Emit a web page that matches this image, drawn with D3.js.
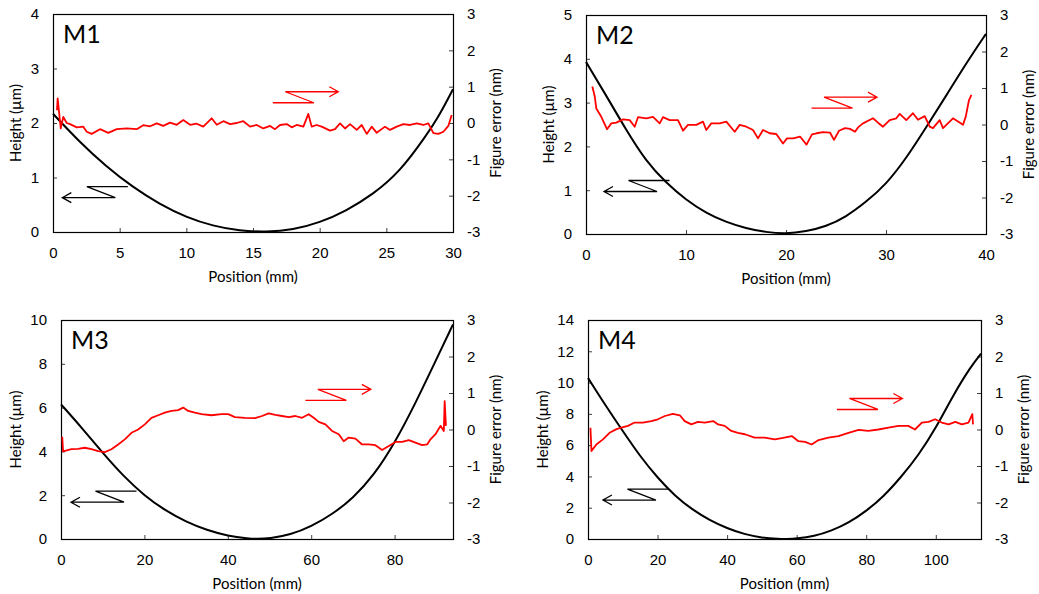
<!DOCTYPE html>
<html>
<head>
<meta charset="utf-8">
<script src="https://cdn.jsdelivr.net/npm/d3@7.9.0/dist/d3.min.js"></script>
<style>
  body { margin: 0; background: #fff; }
  svg { display: block; font-family: Lato, "Open Sans", sans-serif; }
  .tick text { font-size: 15px; fill: #000; }
  .tick line { stroke: #404040; }
  .title { font-size: 15px; fill: #000; }
  .tag { font-size: 25px; fill: #000; }
</style>
</head>
<body>
<svg id="chart" width="1039" height="594"></svg>
<script>
// ---- data ----
// M1
const m1Pos = [0, 2, 4, 6, 8, 10, 12, 14, 16, 18, 20, 22, 24, 26, 28, 29, 30];
const m1Height = [2.17, 1.65, 1.20, 0.82, 0.51, 0.27, 0.11, 0.02, 0.0, 0.04, 0.17, 0.39, 0.69, 1.10, 1.77, 2.15, 2.62];
const m1ErrPos = [0.3, 0.35, 0.58, 0.77, 1.03, 1.28, 1.78, 2.27, 2.53, 2.9, 3.53, 4.15, 4.78, 5.53, 6.28, 6.77, 7.28, 7.78, 8.27, 8.78,
  9.28, 9.77, 10.28, 10.78, 11.27, 11.9, 12.28, 12.78, 13.28, 13.78, 14.27, 14.78, 15.28, 15.77, 16.28, 16.65, 17.03, 17.53, 17.9,
  18.28, 18.78, 19.15, 19.4, 19.78, 20.15, 20.78, 21.15, 21.53, 21.9, 22.28, 22.78, 23.15, 23.53, 23.9, 24.28, 24.9, 25.28, 25.78,
  26.28, 26.78, 27.28, 27.78, 28.15, 28.53, 28.9, 29.28, 29.65, 29.9];
const m1Err = [0.35, 0.68, -0.15, 0.17, 0.0, -0.03, -0.12, -0.10, -0.24, -0.30, -0.17, -0.27, -0.17, -0.15, -0.17, -0.06, -0.09, -0.01, -0.08, 0.01,
  -0.05, 0.08, -0.05, -0.02, -0.10, 0.13, -0.05, 0.05, -0.03, 0.0, 0.05, -0.10, -0.055, -0.15, -0.08, -0.17, -0.055, -0.03, -0.12,
  -0.055, -0.10, 0.25, -0.10, -0.055, -0.10, -0.21, -0.17, -0.01, -0.15, -0.03, -0.19, -0.055, -0.30, -0.10, -0.27, -0.10, -0.19, -0.10,
  -0.03, -0.055, -0.01, -0.055, -0.01, -0.28, -0.30, -0.24, -0.08, 0.22];

// M2
const m2Pos = [0, 2, 4, 6, 8, 10, 12, 14, 16, 18, 20, 22, 24, 26, 28, 30, 32, 34, 36, 38, 40];
const m2Height = [3.93, 3.17, 2.38, 1.66, 1.17, 0.78, 0.48, 0.27, 0.13, 0.04, 0.0, 0.06, 0.17, 0.39, 0.73, 1.13, 1.72, 2.43, 3.15, 3.89, 4.57];
const m2ErrPos = [0.63, 0.87, 1.03, 1.53, 2.1, 2.53, 3.03, 3.7, 4.37, 4.87, 5.2, 6.03, 6.7, 7.37, 7.7, 8.37, 9.2, 9.7, 10.2, 11.03,
  11.7, 12.03, 12.53, 13.37, 14.03, 14.87, 15.37, 16.03, 16.7, 17.2, 17.7, 18.37, 19.03, 19.7, 20.1, 20.73, 21.4, 22.05, 22.6,
  23.07, 23.7, 24.4, 24.8, 25.3, 25.9, 26.4, 26.9, 27.2, 27.7, 28.7, 29.2, 29.7, 30.37, 31.03, 31.37, 32.03, 32.7, 33.2, 33.87,
  34.37, 34.7, 35.37, 35.7, 36.7, 37.2, 37.7, 37.97, 38.3, 38.55];
const m2Err = [1.04, 0.78, 0.44, 0.21, -0.13, 0.03, 0.05, 0.14, 0.12, -0.06, 0.2, 0.17, 0.21, 0.03, 0.2, 0.12, 0.12, -0.17, -0.01, -0.01,
  0.08, -0.15, 0.03, 0.03, 0.08, -0.2, -0.01, -0.06, -0.15, -0.38, -0.15, -0.24, -0.26, -0.52, -0.38, -0.38, -0.33, -0.55, -0.27,
  -0.24, -0.21, -0.22, -0.42, -0.17, -0.1, -0.12, -0.2, -0.08, 0.03, 0.17, 0.05, -0.06, 0.12, 0.17, 0.29, 0.12, 0.31, 0.13, 0.23,
  -0.06, -0.1, 0.12, -0.1, 0.17, 0.08, -0.01, 0.21, 0.67, 0.81];

// M3
const m3Pos = [0, 5, 10, 15, 20, 25, 30, 35, 40, 45, 47, 50, 55, 60, 65, 70, 75, 80, 85, 90, 94];
const m3Height = [6.15, 5.08, 3.93, 2.86, 1.98, 1.30, 0.78, 0.40, 0.14, 0.02, 0.0, 0.02, 0.19, 0.57, 1.12, 1.86, 2.90, 4.37, 6.20, 8.20, 9.80];
const m3ErrPos = [0.3, 0.5, 2.5, 4.1, 5.7, 7.3, 8.9, 10.5, 12.1, 13.7, 15.3, 16.9, 18.5, 20.1, 21.7, 23.3, 24.9, 26.5, 28.1, 29.3,
  30.5, 32.1, 33.7, 36.1, 38.5, 40.1, 41.7, 44.1, 46.5, 48.2, 49.8, 51.4, 53, 54.6, 56.2, 57.8, 59.4, 60.6, 61.8, 63.4, 65, 66.6,
  67.8, 69, 70.6, 72.2, 73.8, 75.4, 77, 78.6, 80.2, 81.8, 83.4, 85, 86.6, 87.8, 88.6, 89.8, 91, 91.8, 92.0, 92.3];
const m3Err = [-0.2, -0.6, -0.54, -0.53, -0.5, -0.54, -0.59, -0.62, -0.54, -0.41, -0.27, -0.09, 0.0, 0.14, 0.32, 0.39, 0.46, 0.51, 0.53, 0.6,
  0.51, 0.46, 0.42, 0.39, 0.42, 0.42, 0.34, 0.32, 0.31, 0.37, 0.44, 0.40, 0.37, 0.34, 0.37, 0.32, 0.42, 0.32, 0.21, 0.14, -0.04, -0.13,
  -0.32, -0.22, -0.25, -0.41, -0.41, -0.43, -0.56, -0.45, -0.34, -0.34, -0.29, -0.36, -0.43, -0.41, -0.27, -0.13, 0.1, -0.04, 0.78, 0.1];

// M4
const m4Pos = [0, 5, 10, 15, 20, 25, 30, 35, 40, 45, 50, 55, 57, 60, 65, 70, 75, 80, 85, 90, 95, 100, 105, 110, 113];
const m4Height = [10.3, 8.55, 6.9, 5.28, 3.91, 2.76, 1.87, 1.2, 0.68, 0.3, 0.08, 0.0, 0.0, 0.02, 0.17, 0.52, 1.04, 1.78, 2.72, 3.95, 5.35, 7.07, 9.2, 11.0, 11.85];
const m4ErrPos = [0.7, 1.0, 2.4, 4.3, 6.2, 8.2, 9.6, 11.5, 13.4, 15.8, 18.2, 20.1, 22.1, 24.4, 26.4, 27.8, 29.7, 31.6, 33.6, 36,
  37.4, 39.3, 41.2, 43.1, 45.1, 47.9, 50.8, 53.7, 56.1, 58.6, 60.5, 62.4, 64.3, 66.3, 69.1, 72, 74.9, 77.8, 80.6, 83.5, 86.4,
  89.3, 92.1, 94, 96, 97.9, 99.8, 101.7, 103.7, 105.6, 107.5, 109.4, 110.5, 110.7];
const m4Err = [0.05, -0.59, -0.41, -0.27, -0.09, 0.01, 0.05, 0.1, 0.19, 0.19, 0.23, 0.28, 0.37, 0.43, 0.39, 0.23, 0.14, 0.21, 0.19, 0.23,
  0.14, 0.1, -0.04, -0.09, -0.13, -0.22, -0.22, -0.27, -0.23, -0.18, -0.32, -0.34, -0.41, -0.29, -0.22, -0.18, -0.09, -0.01, -0.04, 0.0, 0.05,
  0.1, 0.1, 0.0, 0.19, 0.21, 0.28, 0.19, 0.14, 0.21, 0.14, 0.19, 0.42, 0.14];

// shared tick values
const errTicks = [-3, -2, -1, 0, 1, 2, 3];

// panel layout (frame box in px) + which data it shows
const panels = [
  { tag: 'M1', x: 53, y: 14, w: 400, h: 218, xMax: 30, xTicks: d3.range(0, 31, 5), hMax: 4, hTicks: d3.range(0, 5, 1),
    pos: m1Pos, height: m1Height, errPos: m1ErrPos, err: m1Err, leftArrow: [0.7, 0.63], rightArrow: [21.4, 0.86] },
  { tag: 'M2', x: 586, y: 15, w: 400, h: 219, xMax: 40, xTicks: d3.range(0, 41, 10), hMax: 5, hTicks: d3.range(0, 6, 1),
    pos: m2Pos, height: m2Height, errPos: m2ErrPos, err: m2Err, leftArrow: [1.8, 0.97], rightArrow: [29.1, 0.75] },
  { tag: 'M3', x: 61, y: 320, w: 392, h: 219, xMax: 94, xTicks: d3.range(0, 81, 20), hMax: 10, hTicks: d3.range(0, 11, 2),
    pos: m3Pos, height: m3Height, errPos: m3ErrPos, err: m3Err, leftArrow: [2.4, 1.68], rightArrow: [74.3, 1.10] },
  { tag: 'M4', x: 588, y: 320, w: 393, h: 219, xMax: 113, xTicks: d3.range(0, 101, 20), hMax: 14, hTicks: d3.range(0, 15, 2),
    pos: m4Pos, height: m4Height, errPos: m4ErrPos, err: m4Err, leftArrow: [4.3, 2.49], rightArrow: [90.4, 0.85] }
];

const svg = d3.select('#chart');
const plain = d => String(d); // excel style, plain hyphen for minus

// Z-shaped arrow like the excel ones, tip at (tx, ty)
function zArrow(g, tx, ty, dir, color) {
  const s = dir; // -1 points left, 1 points right
  const p = d3.path();
  // long line with the head
  p.moveTo(tx, ty); p.lineTo(tx - s * 53, ty);
  // diagonal
  p.lineTo(tx - s * 24.5, ty + s * 11);
  // short line
  p.lineTo(tx - s * 65.5, ty + s * 11);
  // head
  p.moveTo(tx - s * 9, ty - 5); p.lineTo(tx, ty); p.lineTo(tx - s * 9, ty + 5);
  g.append('path').attr('d', p.toString())
    .attr('fill', 'none').attr('stroke', color).attr('stroke-width', 1.3);
}

panels.forEach(pn => {
  const g = svg.append('g').attr('transform', `translate(${pn.x},${pn.y})`);
  const x = d3.scaleLinear().domain([0, pn.xMax]).range([0, pn.w]);
  const yH = d3.scaleLinear().domain([0, pn.hMax]).range([pn.h, 0]);
  const yE = d3.scaleLinear().domain([-3, 3]).range([pn.h, 0]);

  // axes with inside ticks
  g.append('g').attr('transform', `translate(0,${pn.h})`)
    .call(d3.axisBottom(x).tickValues(pn.xTicks).tickSize(-4).tickSizeOuter(0).tickPadding(15).tickFormat(plain))
    .call(a => a.select('.domain').remove());
  g.append('g')
    .call(d3.axisLeft(yH).tickValues(pn.hTicks).tickSize(-4).tickSizeOuter(0).tickPadding(14).tickFormat(plain))
    .call(a => a.select('.domain').remove());
  g.append('g').attr('transform', `translate(${pn.w},0)`)
    .call(d3.axisRight(yE).tickValues(errTicks).tickSize(-4).tickSizeOuter(0).tickPadding(14).tickFormat(plain))
    .call(a => a.select('.domain').remove());
  g.selectAll('.tick text').attr('font-family', null).attr('font-size', null);

  g.append('rect').attr('x', 0.5).attr('y', 0.5).attr('width', pn.w).attr('height', pn.h)
    .attr('fill', 'none').attr('stroke', '#000').attr('stroke-width', 1.2);

  // height profile
  const hLine = d3.line().x((d, i) => x(pn.pos[i])).y(d => yH(d)).curve(d3.curveBasis);
  g.append('path').datum(pn.height).attr('d', hLine)
    .attr('fill', 'none').attr('stroke', '#000').attr('stroke-width', 2);

  // figure error
  const eLine = d3.line().x((d, i) => x(pn.errPos[i])).y(d => yE(d));
  g.append('path').datum(pn.err).attr('d', eLine)
    .attr('fill', 'none').attr('stroke', '#ff0000').attr('stroke-width', 1.8).attr('stroke-linejoin', 'round');

  // arrows telling which axis
  zArrow(g, x(pn.leftArrow[0]), yH(pn.leftArrow[1]), -1, '#000');
  zArrow(g, x(pn.rightArrow[0]), yE(pn.rightArrow[1]), 1, '#ff0000');

  // titles
  const digits = String(pn.hMax).length;
  g.append('text').attr('class', 'title')
    .attr('transform', `translate(${-(28 + 8 * digits)},${pn.h / 2}) rotate(-90)`)
    .attr('text-anchor', 'middle').attr('dominant-baseline', 'middle').text('Height (µm)');
  g.append('text').attr('class', 'title')
    .attr('transform', `translate(${pn.w + 44},${pn.h / 2}) rotate(-90)`)
    .attr('text-anchor', 'middle').attr('dominant-baseline', 'middle').text('Figure error (nm)');
  g.append('text').attr('class', 'title')
    .attr('x', pn.w / 2).attr('y', pn.h + 46)
    .attr('text-anchor', 'middle').attr('dominant-baseline', 'middle').text('Position (mm)');
  g.append('text').attr('class', 'tag').attr('x', 10).attr('y', 29).text(pn.tag);
});
</script>
</body>
</html>
